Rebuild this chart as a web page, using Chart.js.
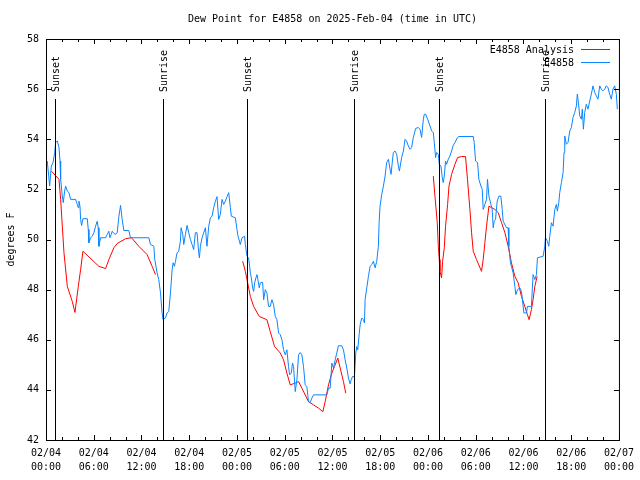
<!DOCTYPE html>
<html>
<head>
<meta charset="utf-8">
<script src="https://cdn.jsdelivr.net/npm/chart.js@4"></script>
<style>
  body { margin: 0; background: #fff; }
  canvas { display: block; }
</style>
</head>
<body>
<canvas id="chart" width="640" height="480"></canvas>
<script>
// Dew point, hours since 02/04 00:00 UTC
const titleText = 'Dew Point for E4858 on 2025-Feb-04 (time in UTC)';
const yTitle = 'degrees F';

const stationHours = [
  0.16, 0.46, 0.67, 0.88, 1.09, 1.21, 1.42, 1.63, 1.76, 1.84, 2.05, 2.17, 2.34, 2.47, 2.68, 2.89,
  3.09, 3.72, 3.93, 4.06, 4.14, 4.27, 4.35, 4.47, 4.64, 5.19, 5.31, 5.39, 5.6, 5.81, 6.02, 6.23,
  6.44, 6.56, 6.65, 6.86, 7.49, 7.69, 7.9, 8.03, 8.19, 8.32, 8.66, 8.95, 9.16, 9.37, 9.57, 9.78,
  10.41, 10.62, 12.92, 13.13, 13.55, 13.67, 13.96, 14.17, 14.39, 14.59, 14.71, 15.01, 15.22, 15.43,
  15.64, 15.85, 15.97, 16.14, 16.27, 16.47, 16.68, 16.89, 16.98, 17.19, 17.31, 17.52, 17.73, 17.94,
  18.15, 18.35, 18.56, 18.77, 18.98, 19.19, 19.28, 19.4, 19.61, 19.82, 20.03, 20.23, 20.45, 20.66,
  20.87, 21.07, 21.29, 21.49, 21.7, 21.91, 22.12, 22.33, 22.54, 22.75, 22.96, 23.17, 23.29, 23.79,
  24.0, 24.13, 24.42, 24.63, 24.96, 25.05, 25.26, 25.46, 25.59, 25.68, 25.8, 25.97, 26.09, 26.22,
  26.38, 26.51, 26.63, 26.8, 26.93, 27.22, 27.35, 27.56, 27.76, 27.97, 28.18, 28.39, 28.6, 28.81,
  29.02, 29.23, 29.44, 29.65, 29.85, 30.07, 30.27, 30.48, 30.61, 30.82, 30.98, 31.11, 31.32, 31.53,
  31.74, 31.95, 32.15, 32.36, 32.57, 32.78, 32.99, 33.2, 33.41, 33.62, 35.29, 35.5, 35.71, 35.92,
  36.13, 36.34, 36.54, 36.75, 37.17, 37.38, 37.59, 37.8, 38.01, 38.22, 38.35, 38.51, 38.76, 38.93,
  39.05, 39.18, 39.35, 39.48, 39.68, 39.89, 40.02, 40.1, 40.31, 40.52, 40.73, 40.93, 41.14, 41.36,
  41.56, 41.77, 41.86, 41.98, 42.19, 42.4, 42.61, 42.81, 43.03, 43.24, 43.36, 43.53, 43.65, 43.86,
  44.07, 44.28, 44.41, 44.69, 44.91, 45.12, 45.32, 45.53, 45.74, 45.95, 46.16, 46.45, 46.79, 47.0,
  47.2, 47.42, 47.54, 47.71, 47.96, 48.26, 48.46, 48.67, 48.79, 48.96, 49.09, 49.3, 49.42, 49.63,
  49.8, 49.92, 50.05, 50.21, 50.34, 50.55, 50.76, 50.97, 51.18, 51.39, 51.72, 51.89, 53.69, 53.81,
  53.98, 54.23, 54.4, 54.65, 54.82, 54.94, 55.15, 55.36, 55.48, 55.66, 55.91, 56.07, 56.2, 56.32,
  56.49, 56.7, 56.91, 57.16, 57.33, 57.45, 57.87, 58.08, 58.16, 58.37, 58.49, 58.7, 58.92, 59.04,
  59.25, 59.55, 59.75, 59.87, 60.05, 60.38, 60.5, 61.0, 61.21, 61.43, 61.63, 61.76, 62.47, 62.68,
  62.76, 63.01, 63.18, 63.31, 63.51, 63.72, 63.94, 64.14, 64.26, 64.44, 64.56, 64.77, 64.98, 65.1,
  65.19, 65.39, 65.6, 65.82, 66.02, 66.23, 66.44, 66.65, 66.77, 66.95, 67.07, 67.28, 67.4, 67.53,
  67.7, 67.9, 68.11, 68.33, 68.53, 68.74, 68.95, 69.16, 69.37, 69.58, 69.79, 70.0, 70.21, 70.41,
  70.62, 70.83, 71.04, 71.25, 71.46, 71.67, 71.8
];
const stationValues = [
  53.13, 52.13, 52.93, 53.07, 53.47, 53.87, 53.93, 53.67, 53.13, 52.4, 51.73, 51.47, 51.93, 52.13, 51.93, 51.87,
  51.6, 51.6, 51.4, 51.27, 51.53, 51.33, 50.8, 50.56, 50.83, 50.83, 50.4, 49.87, 50.07, 50.13, 50.27, 50.53,
  50.73, 50.47, 49.73, 50.07, 50.07, 50.2, 50.33, 50.07, 50.2, 50.33, 50.2, 50.27, 50.93, 51.36, 50.8, 50.36,
  50.36, 50.07, 50.07, 49.8, 49.73, 49.2, 48.67, 48.4, 47.87, 47.07, 46.8, 46.87, 47.07, 47.13,
  47.87, 48.8, 49.07, 48.93, 49.13, 49.47, 49.53, 49.93, 50.47, 50.2, 49.8, 50.2, 50.56, 50.27,
  50.0, 49.8, 49.6, 50.27, 50.27, 49.47, 49.27, 49.73, 50.07, 50.27, 50.47, 49.73, 50.53, 50.87,
  50.93, 51.27, 51.53, 51.71, 50.8, 51.0, 51.6, 51.4, 51.53, 51.71, 51.87, 51.27, 50.93, 50.87,
  50.4, 50.13, 49.8, 50.07, 50.13, 49.8, 49.33, 49.27, 48.93, 48.67, 48.47, 48.07, 47.93, 48.27,
  48.47, 48.6, 48.4, 48.07, 48.27, 48.29, 47.6, 48.0, 47.87, 47.33, 47.33, 47.6, 47.4, 46.93,
  46.8, 46.27, 46.2, 46.0, 45.6, 45.4, 45.6, 44.93, 44.6, 44.67, 45.07, 44.93, 43.93, 44.4,
  45.4, 45.49, 45.4, 44.93, 44.2, 44.13, 43.53, 43.49, 43.67, 43.8, 43.8, 44.07, 44.07, 45.07,
  44.87, 45.2, 45.47, 45.76, 45.76, 45.6, 45.2, 44.87, 44.47, 44.24, 44.4, 44.53, 44.53, 45.47,
  45.73, 45.6, 46.2, 46.6, 46.87, 46.8, 46.67, 47.6, 48.07, 48.53, 48.93, 49.0, 49.13, 48.87,
  49.13, 49.73, 50.67, 51.33, 51.8, 52.13, 52.53, 53.07, 53.2, 52.8, 52.6, 53.13, 53.47, 53.53,
  53.4, 52.93, 52.73, 53.27, 53.53, 54.0, 53.93, 53.73, 53.6, 53.67, 54.07, 54.43, 54.47, 54.4,
  54.07, 54.8, 55.0, 55.0, 54.8, 54.53, 54.33, 54.27, 53.87, 53.27, 53.47, 53.4, 53.0, 52.93,
  52.47, 52.27, 52.53, 53.13, 53.0, 53.2, 53.33, 53.53, 53.76, 53.87, 54.07, 54.11, 54.11, 53.87,
  53.13, 53.07, 52.4, 52.13, 52.0, 51.2, 51.4, 51.6, 52.4, 51.73, 51.4, 51.2, 50.47, 50.73,
  50.8, 51.53, 51.73, 51.73, 51.2, 50.73, 50.47, 50.47, 49.73, 49.07, 48.93, 48.67, 48.13, 47.8,
  48.0, 48.07, 47.93, 47.6, 47.07, 47.07, 47.33, 47.33, 48.6, 48.4, 48.6, 49.27, 49.33, 49.73,
  50.07, 49.93, 49.73, 50.13, 50.67, 50.53, 51.2, 51.4, 51.13, 51.47, 51.87, 52.27, 52.67, 53.47,
  54.13, 53.8, 53.87, 54.33, 54.47, 54.87, 55.07, 55.33, 55.8, 55.33, 54.93, 54.8, 55.2, 54.4,
  55.07, 55.4, 55.2, 55.53, 55.8, 56.13, 55.87, 55.73, 55.6, 56.13, 56.0, 55.93, 56.0, 56.13,
  56.07, 55.8, 55.6, 56.0, 56.13, 55.8, 55.2
];

// Analysis, three daily segments
const analysisHours1 = [0.67, 1.63, 1.84, 2.05, 2.26, 2.68, 3.3, 3.64, 4.06, 4.35, 4.64, 6.65, 7.49, 7.9, 8.53, 8.95, 10.0, 10.75, 11.66, 12.7, 13.34, 13.76];
const analysisValues1 = [52.73, 52.4, 51.6, 50.53, 49.47, 48.13, 47.53, 47.09, 48.13, 48.8, 49.53, 48.93, 48.84, 49.2, 49.67, 49.84, 50.03, 50.07, 49.73, 49.4, 48.93, 48.6];
const analysisHours2 = [24.72, 25.05, 25.26, 25.68, 26.09, 26.8, 27.76, 28.18, 28.72, 29.44, 29.85, 30.27, 30.69, 31.32, 31.74, 32.15, 32.99, 33.62, 34.25, 34.79, 35.08, 35.5, 35.92, 36.25, 36.67, 36.97, 37.38, 37.67];
const analysisValues2 = [49.13, 48.73, 48.4, 47.73, 47.33, 46.93, 46.8, 46.33, 45.73, 45.47, 45.2, 44.67, 44.2, 44.27, 44.33, 44.07, 43.53, 43.4, 43.27, 43.13, 43.53, 44.2, 44.67, 44.93, 45.27, 44.87, 44.33, 43.87];
const analysisHours3 = [48.67, 48.88, 49.17, 49.3, 49.42, 49.51, 49.71, 49.84, 50.05, 50.21, 50.47, 50.64, 50.97, 51.39, 51.72, 52.22, 52.72, 52.97, 53.27, 53.48, 53.69, 54.1, 54.73, 54.94, 55.15, 55.36, 55.66, 55.99, 56.41, 56.83, 57.25, 57.67, 58.08, 58.49, 58.92, 59.33, 59.75, 60.17, 60.5, 60.71, 61.0, 61.21, 61.43, 61.72];
const analysisValues3 = [52.53, 51.73, 50.67, 49.73, 49.2, 48.73, 48.47, 49.13, 49.67, 50.53, 51.4, 52.13, 52.6, 53.0, 53.27, 53.31, 53.31, 52.4, 51.2, 50.27, 49.53, 49.2, 48.73, 49.2, 49.87, 50.53, 51.33, 51.27, 51.2, 51.07, 50.67, 50.27, 49.73, 49.07, 48.53, 48.27, 47.73, 47.33, 47.0, 46.8, 47.2, 47.6, 48.13, 48.53];

const sunHours = [1.17, 14.72, 25.26, 38.68, 49.35, 62.77];
const sunLabels = ['Sunset', 'Sunrise', 'Sunset', 'Sunrise', 'Sunset', 'Sunrise'];

const FONT = '10px "DejaVu Sans Mono", "Liberation Mono", monospace';

function pairs(xs, ys) {
  return xs.map((x, i) => ({ x: x, y: ys[i] }));
}
const analysisData = pairs(analysisHours1, analysisValues1)
  .concat([{ x: 19, y: null }], pairs(analysisHours2, analysisValues2))
  .concat([{ x: 43, y: null }], pairs(analysisHours3, analysisValues3));

const gnuplotLook = {
  id: 'gnuplotLook',
  afterDatasetsDraw(chart) {
    const ctx = chart.ctx;
    const a = chart.chartArea;
    const xs = chart.scales.x, ys = chart.scales.y;
    ctx.save();
    ctx.strokeStyle = '#000';
    ctx.fillStyle = '#000';
    ctx.lineWidth = 1;
    ctx.font = FONT;

    // sunrise / sunset markers
    sunHours.forEach((h, i) => {
      const px = Math.round(xs.getPixelForValue(h)) + 0.5;
      ctx.beginPath();
      ctx.moveTo(px, a.top + 60);
      ctx.lineTo(px, a.bottom);
      ctx.stroke();
      ctx.save();
      ctx.translate(px + 0.5, a.top + 53);
      ctx.rotate(-Math.PI / 2);
      ctx.textAlign = 'left';
      ctx.textBaseline = 'middle';
      ctx.fillText(sunLabels[i], 0, 0);
      ctx.restore();
    });

    // frame
    ctx.strokeRect(a.left + 0.5, a.top + 0.5, a.right - a.left, a.bottom - a.top);

    // inward ticks
    ctx.beginPath();
    for (let h = 0; h <= 72; h += 2) {
      const px = Math.round(xs.getPixelForValue(h)) + 0.5;
      const len = h % 6 === 0 ? 5 : 3;
      ctx.moveTo(px, a.bottom); ctx.lineTo(px, a.bottom - len);
      ctx.moveTo(px, a.top); ctx.lineTo(px, a.top + len);
    }
    for (let v = 42; v <= 58; v += 2) {
      const py = Math.round(ys.getPixelForValue(v)) + 0.5;
      ctx.moveTo(a.left, py); ctx.lineTo(a.left + 5, py);
      ctx.moveTo(a.right, py); ctx.lineTo(a.right - 5, py);
    }
    ctx.stroke();

    // legend
    ctx.textAlign = 'right';
    ctx.textBaseline = 'middle';
    chart.data.datasets.slice().sort((p, q) => p.legendRow - q.legendRow).forEach((ds, i) => {
      const y = 50 + i * 13;
      ctx.fillStyle = '#000';
      ctx.fillText(ds.label, 574, y);
      ctx.strokeStyle = ds.borderColor;
      ctx.beginPath();
      ctx.moveTo(581, y - 0.5);
      ctx.lineTo(610, y - 0.5);
      ctx.stroke();
    });
    ctx.restore();
  },
  afterDraw(chart) {
    const ctx = chart.ctx;
    const a = chart.chartArea;
    ctx.save();
    ctx.font = FONT;
    ctx.fillStyle = '#000';
    ctx.textAlign = 'center';
    ctx.textBaseline = 'middle';
    ctx.fillText(titleText, (a.left + a.right) / 2, 19);
    ctx.translate(11, (a.top + a.bottom) / 2);
    ctx.rotate(-Math.PI / 2);
    ctx.fillText(yTitle, 0, 0);
    ctx.restore();
  }
};

Chart.defaults.font.family = '"DejaVu Sans Mono", "Liberation Mono", monospace';
Chart.defaults.font.size = 10;
Chart.defaults.color = '#000';

new Chart(document.getElementById('chart'), {
  type: 'line',
  data: {
    datasets: [{
      label: 'E4858',
      legendRow: 1,
      data: pairs(stationHours, stationValues),
      borderColor: '#0a84ff',
      borderWidth: 1,
      pointRadius: 0,
      tension: 0,
      order: 0
    }, {
      label: 'E4858 Analysis',
      legendRow: 0,
      data: analysisData,
      borderColor: '#ff0000',
      borderWidth: 1,
      pointRadius: 0,
      tension: 0,
      spanGaps: false,
      order: 1
    }]
  },
  options: {
    responsive: false,
    animation: false,
    layout: { padding: { top: 39, right: 19, left: 0, bottom: 0 } },
    plugins: {
      legend: { display: false },
      tooltip: { enabled: false }
    },
    scales: {
      x: {
        type: 'linear',
        min: 0,
        max: 72,
        grid: { display: false, drawTicks: false },
        border: { display: false },
        afterFit(scale) { scale.height = 40; },
        ticks: {
          stepSize: 6,
          padding: 6,
          maxRotation: 0,
          autoSkip: false,
          font: { lineHeight: '14px' },
          callback(v) {
            const day = 4 + Math.floor(v / 24);
            const hr = v % 24;
            return ['02/0' + day, (hr < 10 ? '0' : '') + hr + ':00'];
          }
        }
      },
      y: {
        min: 42,
        max: 58,
        grid: { display: false, drawTicks: false },
        border: { display: false },
        afterFit(scale) { scale.width = 46; },
        ticks: { stepSize: 2, padding: 7 }
      }
    }
  },
  plugins: [gnuplotLook]
});
</script>
</body>
</html>
